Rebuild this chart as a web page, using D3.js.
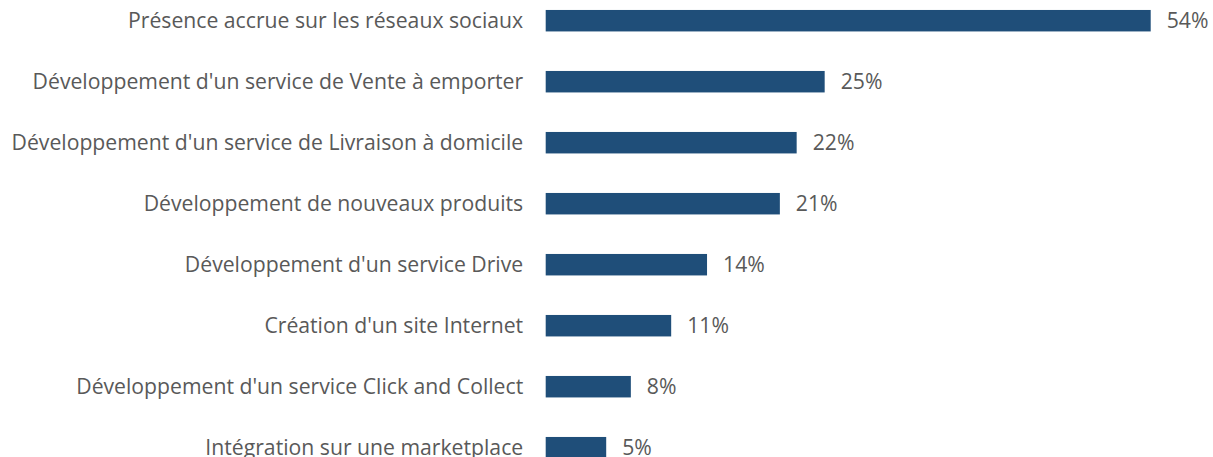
<!DOCTYPE html>
<html>
<head>
<meta charset="utf-8">
<script src="https://cdn.jsdelivr.net/npm/d3@7"></script>
<style>
  html, body { margin: 0; padding: 0; background: #ffffff; }
  svg { display: block; }
</style>
</head>
<body>
<svg id="chart" width="1213" height="457"></svg>
<script>
const categories = [
  "Présence accrue sur les réseaux sociaux",
  "Développement d'un service de Vente à emporter",
  "Développement d'un service de Livraison à domicile",
  "Développement de nouveaux produits",
  "Développement d'un service Drive",
  "Création d'un site Internet",
  "Développement d'un service Click and Collect",
  "Intégration sur une marketplace"
];
const values = [54, 24.9, 22.4, 20.9, 14.4, 11.2, 7.6, 5.4];
const valueLabels = ["54%", "25%", "22%", "21%", "14%", "11%", "8%", "5%"];

const svg = d3.select("#chart");
const left = 545.7;
const x = d3.scaleLinear().domain([0, 54]).range([left, 1150.7]);
const y = d3.scaleBand().domain(categories).range([-9.8, 478.2])
  .paddingInner(0.648).paddingOuter(0.324);

const font = "'Open Sans', 'Noto Sans', sans-serif";
const fs = 21.2;

svg.selectAll("rect.bar").data(categories).join("rect")
  .attr("class", "bar")
  .attr("x", x(0))
  .attr("y", d => y(d))
  .attr("width", (d, i) => x(values[i]) - x(0))
  .attr("height", y.bandwidth())
  .attr("fill", "#1F4E79");

svg.selectAll("text.cat").data(categories).join("text")
  .attr("class", "cat")
  .attr("x", left - 22.5)
  .attr("y", d => y(d) + y.bandwidth() / 2)
  .attr("dy", "0.35em")
  .attr("text-anchor", "end")
  .attr("font-family", font)
  .attr("font-size", fs)
  .attr("fill", "#595959")
  .text(d => d);

svg.selectAll("text.val").data(categories).join("text")
  .attr("class", "val")
  .attr("x", (d, i) => x(values[i]) + 16)
  .attr("y", d => y(d) + y.bandwidth() / 2)
  .attr("dy", "0.35em")
  .attr("font-family", font)
  .attr("font-size", fs)
  .attr("fill", "#595959")
  .text((d, i) => valueLabels[i]);
</script>
</body>
</html>
